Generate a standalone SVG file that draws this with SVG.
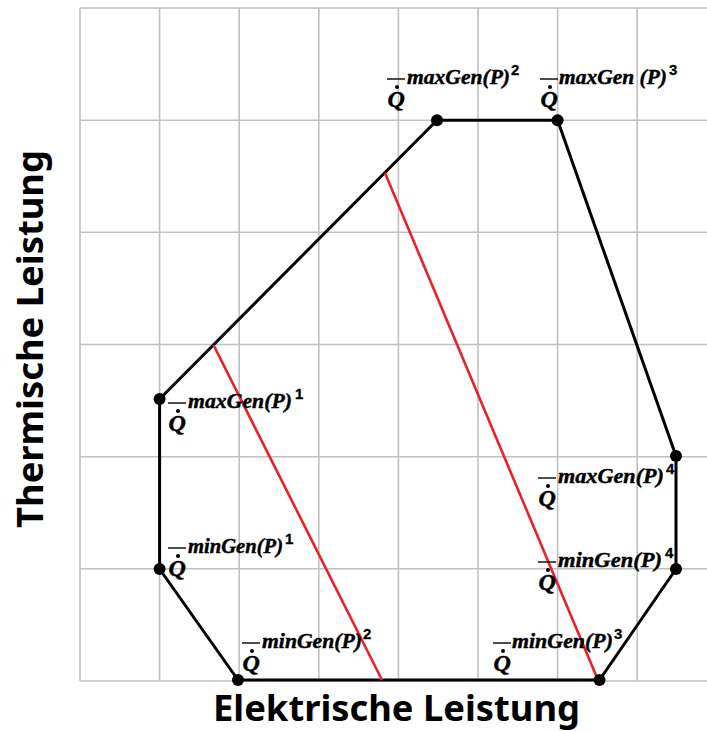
<svg xmlns="http://www.w3.org/2000/svg" width="707" height="731" viewBox="0 0 707 731">
<style>
.grid line{stroke:#c0c0c0;stroke-width:1.6}
.poly{fill:none;stroke:#000;stroke-width:3;stroke-linejoin:round}
.red{stroke:#e8202a;stroke-width:2.6}
.pt{fill:#000}
.lbl{font-family:"Liberation Serif",serif;font-weight:bold;font-style:italic;font-size:21px;fill:#000;stroke:#000;stroke-width:0.45}
.sup{font-family:"Liberation Sans",sans-serif;font-style:normal;font-size:15px;stroke-width:0.3}
.q{font-family:"Liberation Serif",serif;font-weight:bold;font-style:italic;font-size:24px;fill:#000;stroke:#000;stroke-width:0.5}
.bar{stroke:#000;stroke-width:1.4}
.axis{font-family:"Noto Sans","Open Sans",sans-serif;font-weight:bold;font-size:35px;fill:#000}
</style>
<defs>
<g id="qd">
<line class="bar" x1="0" y1="-5" x2="18" y2="-5"/>
<circle cx="10" cy="3" r="2" fill="#000"/>
<text class="q" x="0.5" y="23">Q</text>
</g>
</defs>
<rect width="707" height="731" fill="#fff"/>
<g class="grid" id="grid">
<line x1="80" y1="8" x2="707" y2="8"/>
<line x1="80" y1="120.2" x2="707" y2="120.2"/>
<line x1="80" y1="232.3" x2="707" y2="232.3"/>
<line x1="80" y1="344.5" x2="707" y2="344.5"/>
<line x1="80" y1="456.7" x2="707" y2="456.7"/>
<line x1="80" y1="568.8" x2="707" y2="568.8"/>
<line x1="80" y1="681" x2="707" y2="681"/>
<line x1="80" y1="8" x2="80" y2="681"/>
<line x1="159.6" y1="8" x2="159.6" y2="681"/>
<line x1="239.2" y1="8" x2="239.2" y2="681"/>
<line x1="318.8" y1="8" x2="318.8" y2="681"/>
<line x1="398.4" y1="8" x2="398.4" y2="681"/>
<line x1="478" y1="8" x2="478" y2="681"/>
<line x1="557.6" y1="8" x2="557.6" y2="681"/>
<line x1="637.2" y1="8" x2="637.2" y2="681"/>
</g>
<g id="connectors">
<polygon class="poly" points="159.6,399 437,120.2 557.6,120.2 676,456 676,569 599.5,680 238,680 159.6,569"/>
<line class="red" x1="213.5" y1="345" x2="382" y2="680"/>
<line class="red" x1="385" y1="173" x2="598" y2="680"/>
</g>
<g id="p1"><circle class="pt" cx="159.6" cy="399" r="6"/>
<use href="#qd" x="168" y="408"/><text class="lbl" x="188" y="408" textLength="104" lengthAdjust="spacingAndGlyphs">maxGen(P)</text><text class="lbl sup" x="295" y="399">1</text></g>
<g id="p2"><circle class="pt" cx="437" cy="120.2" r="6"/>
<use href="#qd" x="387" y="84"/><text class="lbl" x="407" y="84" textLength="103" lengthAdjust="spacingAndGlyphs">maxGen(P)</text><text class="lbl sup" x="511" y="75">2</text></g>
<g id="p3"><circle class="pt" cx="557.6" cy="120.2" r="6"/>
<use href="#qd" x="540" y="84"/><text class="lbl" x="559" y="84" textLength="108" lengthAdjust="spacingAndGlyphs">maxGen (P)</text><text class="lbl sup" x="669" y="75">3</text></g>
<g id="p4"><circle class="pt" cx="676" cy="456" r="6"/>
<use href="#qd" x="538" y="483"/><text class="lbl" x="558" y="483" textLength="106" lengthAdjust="spacingAndGlyphs">maxGen(P)</text><text class="lbl sup" x="666" y="474">4</text></g>
<g id="p5"><circle class="pt" cx="676" cy="569" r="6"/>
<use href="#qd" x="538" y="567"/><text class="lbl" x="558" y="567" textLength="104" lengthAdjust="spacingAndGlyphs">minGen(P)</text><text class="lbl sup" x="665" y="558">4</text></g>
<g id="p6"><circle class="pt" cx="599.5" cy="680" r="6"/>
<use href="#qd" x="493" y="648"/><text class="lbl" x="512" y="648" textLength="101" lengthAdjust="spacingAndGlyphs">minGen(P)</text><text class="lbl sup" x="614" y="639">3</text></g>
<g id="p7"><circle class="pt" cx="238" cy="680" r="6"/>
<use href="#qd" x="242" y="648"/><text class="lbl" x="262" y="648" textLength="100" lengthAdjust="spacingAndGlyphs">minGen(P)</text><text class="lbl sup" x="363" y="639">2</text></g>
<g id="p8"><circle class="pt" cx="159.6" cy="569" r="6"/>
<use href="#qd" x="168" y="553"/><text class="lbl" x="188" y="553" textLength="95" lengthAdjust="spacingAndGlyphs">minGen(P)</text><text class="lbl sup" x="285" y="544">1</text></g>
<g id="axes">
<text class="axis" x="213" y="721" textLength="367" lengthAdjust="spacingAndGlyphs">Elektrische Leistung</text>
<text class="axis" transform="translate(43,528) rotate(-90)" x="0" y="0" textLength="378" lengthAdjust="spacingAndGlyphs">Thermische Leistung</text>
</g>
</svg>
